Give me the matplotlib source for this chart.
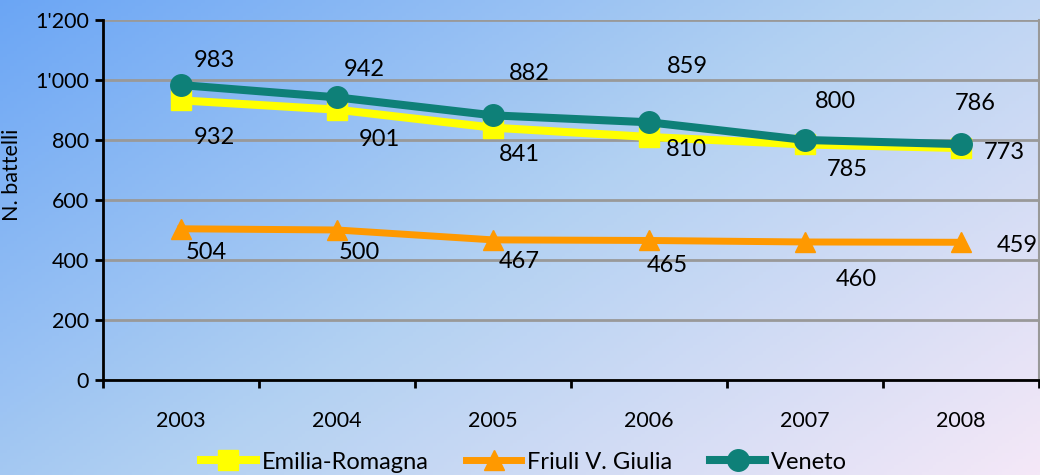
import matplotlib
matplotlib.use("Agg")
import matplotlib.pyplot as plt
import matplotlib.ticker as mticker
import numpy as np

years = ["2003", "2004", "2005", "2006", "2007", "2008"]
emilia = [932, 901, 841, 810, 785, 773]
friuli = [504, 500, 467, 465, 460, 459]
veneto = [983, 942, 882, 859, 800, 786]
y_ticks = [0, 200, 400, 600, 800, 1000, 1200]

# label offsets in pixels (dx, dy) relative to each point
veneto_off = [(33, 25), (27, 28), (36, 42), (38, 56), (30, 38), (14, 41)]
emilia_off = [(33, -37), (42, -30), (26, -27), (37, -13), (42, -25), (43, -4)]
friuli_off = [(25, -24), (22, -23), (26, -22), (18, -25), (51, -38), (56, -3)]

plt.rcParams["font.family"] = ["Lato", "DejaVu Sans"]

fig = plt.figure(figsize=(10.4, 4.75), dpi=100)

# gradient background, blue top-left to lavender bottom-right
bg = fig.add_axes([0, 0, 1, 1], zorder=-10)
stops = np.array([[0.42, 0.65, 0.96], [0.70, 0.82, 0.95], [0.96, 0.91, 0.97]])
xx, yy = np.meshgrid(np.linspace(0, 1, 300), np.linspace(0, 1, 150))
t = np.clip(0.6 * xx + 0.4 * yy, 0, 1)
img = np.stack([np.interp(t, [0, 0.5, 1], stops[:, k]) for k in range(3)], axis=-1)
bg.imshow(img, aspect="auto", extent=[0, 1, 0, 1])
bg.axis("off")

ax = fig.add_axes([0.099, 0.2, 0.9, 0.758])
ax.set_facecolor("none")
x = np.arange(len(years))

ax.plot(x, emilia, color="#ffff00", lw=5.8, marker="s", ms=14.5, label="Emilia-Romagna", zorder=3)
ax.plot(x, friuli, color="#ff9900", lw=5, marker="^", ms=15, label="Friuli V. Giulia", zorder=3)
ax.plot(x, veneto, color="#0e8078", lw=5.8, marker="o", ms=15.5, label="Veneto", zorder=4)

for vals, offs in [(veneto, veneto_off), (emilia, emilia_off), (friuli, friuli_off)]:
    for xi, v, (dx, dy) in zip(x, vals, offs):
        ax.annotate(str(v), (xi, v), xytext=(dx, dy), textcoords="offset pixels",
                    ha="center", va="center", fontsize=17, color="black")

ax.set_xlim(-0.5, len(years) - 0.5)
ax.set_ylim(0, 1200)
ax.set_yticks(y_ticks)
ax.yaxis.set_major_formatter(mticker.FuncFormatter(
    lambda v, p: f"{int(v):,}".replace(",", "'")))
ax.set_xticks(x)
ax.set_xticklabels(years)
ax.set_xticks(np.arange(-0.5, len(years)), minor=True)
ax.tick_params(axis="x", which="major", length=0, pad=22, labelsize=15.5)
ax.tick_params(axis="x", which="minor", length=6, width=2, direction="out")
ax.tick_params(axis="y", length=6, width=2, labelsize=15.5, pad=4)
ax.grid(axis="y", color="#999999", lw=2)
ax.set_axisbelow(True)
for s in ["left", "bottom"]:
    ax.spines[s].set_linewidth(2)
ax.spines["top"].set_visible(False)
ax.spines["right"].set_color("#999999")
ax.spines["right"].set_linewidth(1.5)
ax.set_ylabel("N. battelli", fontsize=15.5)
ax.yaxis.set_label_coords(-0.087, 0.57)

ax.legend(loc="center left", bbox_to_anchor=(0.193, 0.027), bbox_transform=fig.transFigure,
          ncol=3, frameon=False, fontsize=17, handlelength=2.33, handletextpad=0.25,
          columnspacing=1.6, borderpad=0, borderaxespad=0)

fig.savefig("out.png", dpi=100)
